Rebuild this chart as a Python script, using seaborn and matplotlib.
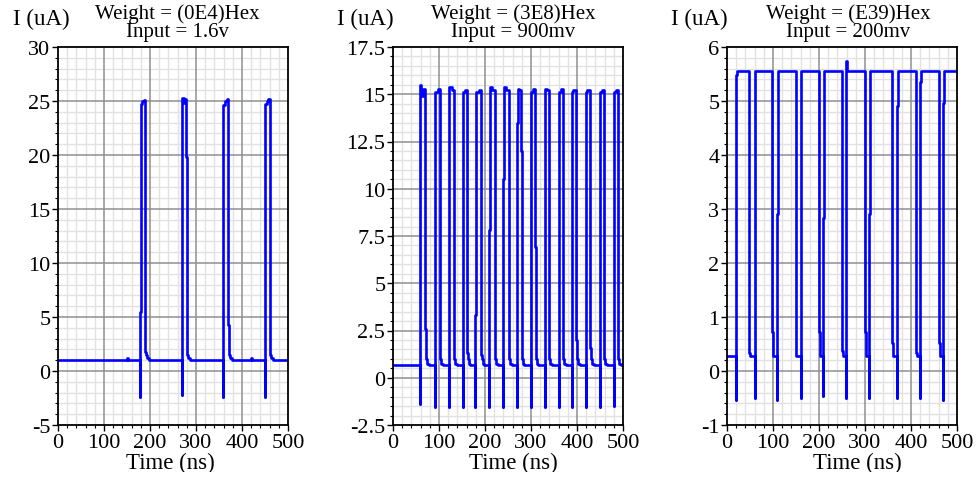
import numpy as np
import matplotlib
matplotlib.use("Agg")
import matplotlib.pyplot as plt
import seaborn as sns
from matplotlib.ticker import MultipleLocator, FuncFormatter
from matplotlib.patches import Rectangle

# ---------------- data ----------------
x_label = "Time (ns)"
y_label = "I (uA)"

# Panel 1 : Weight = (0E4)Hex, Input = 1.6v
p1_title = ["Weight = (0E4)Hex", "Input = 1.6v"]
p1_base = 1.05
p1_on = [178, 269, 359, 450]
p1_off = [190, 279, 370, 460]
p1_under = [-2.4, -2.2, -2.4, -2.4]
p1_rise_step = [5.5, 21.9, 24.6, 24.7]
p1_top = [[24.7, 25.0, 25.1], [25.3, 24.8, 25.2], [24.6, 25.0, 25.2], [24.7, 25.0, 25.2]]
p1_fall_step = [1.8, 19.8, 4.3, 2.3]
p1_tail = [1.5, 1.2, 1.05]
p1_blip_t = [151, 420]
p1_blip_v = [1.25, 1.2]
p1_ylim = [-5, 30]
p1_yticks = [-5, 0, 5, 10, 15, 20, 25, 30]

# Panel 2 : Weight = (3E8)Hex, Input = 900mv
p2_title = ["Weight = (3E8)Hex", "Input = 900mv"]
p2_base = 0.67
p2_on = [59.4, 90.6, 121, 151.4, 179, 209.4, 239.1, 269.6, 299.3, 329.7, 360.1, 389.9, 420.3, 450.7, 479.7]
p2_off = [70.3, 101.4, 131.9, 160.9, 191.3, 221, 251.4, 278.3, 308.7, 338.4, 368.8, 398.6, 429, 458, 488.4]
p2_under = [-1.4, -1.53, -1.53, -1.53, -1.53, -1.53, -1.53, -1.53, -1.53, -1.53, -1.53, -1.53, -1.53, -1.53, -1.5]
p2_rise_step = [15.5, 15.1, 15.1, 15.1, 3.3, 7.8, 10.5, 13.5, 14.4, 15.1, 15.1, 15.1, 15.1, 15.1, 3.4]
p2_top = [[14.9, 15.3], [15.1, 15.3], [15.4, 15.2], [15.1, 15.2], [15.1, 15.25],
          [15.4, 15.2], [15.4, 15.2], [15.3, 15.2], [15.1, 15.3], [15.3, 15.2],
          [15.1, 15.3], [15.2, 15.2], [15.2, 15.2], [15.1, 15.2], [15.1, 15.25]]
p2_fall_step = [2.6, 1.8, 1.6, 1.3, 1.2, 1.5, 1.6, 12.0, 6.9, 4.2, 2.6, 2.0, 1.6, 1.3, 1.14]
p2_tail = [1.0, 0.75, 0.67]
p2_ylim = [-2.5, 17.5]
p2_yticks = [-2.5, 0, 2.5, 5, 7.5, 10, 12.5, 15, 17.5]

# Panel 3 : Weight = (E39)Hex, Input = 200mv
p3_title = ["Weight = (E39)Hex", "Input = 200mv"]
p3_low = 0.27
p3_high = 5.56
p3_rise = [19.6, 60.3, 109, 160, 208.6, 259.4, 308.9, 369.2, 420, 469.5]
p3_under = [-0.53, -0.5, -0.53, -0.5, -0.47, -0.5, -0.5, -0.5, -0.5, -0.53]
p3_rise_step = [5.49, 5.45, 2.9, 5.35, 2.83, 5.74, 2.9, 4.9, 5.35, 4.96]
p3_fall = [48.7, 98.1, 149, 199.1, 250, 300.1, 359.7, 410.6, 460]
p3_fall_step = [0.34, 0.72, 0.40, 0.72, 0.37, 0.72, 0.51, 0.34, 0.51]
p3_ylim = [-1, 6]
p3_yticks = [-1, 0, 1, 2, 3, 4, 5, 6]

x_ticks = [0, 100, 200, 300, 400, 500]


# ---------------- waveform assembly (step polylines) ----------------
def pulse_train(base, on, off, under, rise, tops, fall, tail, blip_t=(), blip_v=()):
    t, v = [0.0], [base]
    events = [("p", on[i], i) for i in range(len(on))] + [("b", blip_t[j], j) for j in range(len(blip_t))]
    events.sort(key=lambda e: e[1])
    for kind, tt, i in events:
        if kind == "b":
            t += [tt, tt, tt + 1.0, tt + 1.0]
            v += [base, blip_v[i], blip_v[i], base]
            continue
        t0, t1 = on[i], off[i]
        t += [t0, t0, t0, t0 + 1.5]
        v += [base, under[i], rise[i], rise[i]]
        edges = np.linspace(t0 + 1.5, t1, len(tops[i]) + 1)
        for k, lev in enumerate(tops[i]):
            t += [edges[k], edges[k + 1]]
            v += [lev, lev]
        t += [t1, t1 + 1.5]
        v += [fall[i], fall[i]]
        tt_ = t1 + 1.5
        for k, lev in enumerate(tail):
            t += [tt_, tt_ + 2.0 * (k + 1)]
            v += [lev, lev]
            tt_ = tt_ + 2.0 * (k + 1)
        t += [tt_]
        v += [base]
    t += [500.0]
    v += [base]
    return t, v


def inverted_train(low, high, rise_t, under, rise_step, fall_t, fall_step):
    t, v = [0.0], [low]
    for i, r in enumerate(rise_t):
        t += [r, r, r, r + 1.5, r + 1.5]
        v += [low, under[i], rise_step[i], rise_step[i], high]
        if i < len(fall_t):
            f = fall_t[i]
            t += [f, f, f + 2.0, f + 2.0]
            v += [high, fall_step[i], fall_step[i], low]
    t += [500.0]
    v += [high]
    return t, v


w1 = pulse_train(p1_base, p1_on, p1_off, p1_under, p1_rise_step, p1_top, p1_fall_step, p1_tail,
                 p1_blip_t, p1_blip_v)
w2 = pulse_train(p2_base, p2_on, p2_off, p2_under, p2_rise_step, p2_top, p2_fall_step, p2_tail)
w3 = inverted_train(p3_low, p3_high, p3_rise, p3_under, p3_rise_step, p3_fall, p3_fall_step)

# ---------------- styling ----------------
sns.set_theme(style="white")
plt.rcParams["font.family"] = ["Liberation Serif", "DejaVu Serif"]
plt.rcParams["axes.unicode_minus"] = False

W, H = 980, 481
fig = plt.figure(figsize=(W / 100, H / 100), dpi=100)

panels = [
    dict(w=w1, title=p1_title, ylim=p1_ylim, yticks=p1_yticks, ymin=1,
         left=58, ylab_x=13, title_cx=177, xlab_cx=170),
    dict(w=w2, title=p2_title, ylim=p2_ylim, yticks=p2_yticks, ymin=0.5,
         left=393, ylab_x=337, title_cx=513, xlab_cx=513),
    dict(w=w3, title=p3_title, ylim=p3_ylim, yticks=p3_yticks, ymin=0.2,
         left=727, ylab_x=671, title_cx=848, xlab_cx=857),
]

ax_w, top_px, bot_px = 230, 48, 426
fmt = FuncFormatter(lambda val, pos: f"{val:g}")

for p in panels:
    ax = fig.add_axes([p["left"] / W, (H - bot_px) / H, ax_w / W, (bot_px - top_px) / H])
    t, v = p["w"]
    sns.lineplot(x=t, y=v, ax=ax, sort=False, estimator=None, color="#0000ff",
                 linewidth=1.9, zorder=3)
    ax.set_xlim(0, 500)
    ax.set_ylim(*p["ylim"])
    ax.set_xticks(x_ticks)
    ax.set_yticks(p["yticks"])
    ax.xaxis.set_minor_locator(MultipleLocator(20))
    ax.yaxis.set_minor_locator(MultipleLocator(p["ymin"]))
    ax.yaxis.set_major_formatter(fmt)
    ax.xaxis.set_major_formatter(fmt)
    ax.set_axisbelow(True)
    # light minor grid from the axis; darker major grid drawn on top of it
    ax.grid(which="minor", color="#e2e2e2", linewidth=1.0)
    ax.grid(which="major", visible=False)
    for xv in x_ticks[1:-1]:
        ax.axvline(xv, color="#8f8f8f", linewidth=1.1, zorder=1)
    for yv in p["yticks"][1:-1]:
        ax.axhline(yv, color="#8f8f8f", linewidth=1.1, zorder=1)
    for s in ax.spines.values():
        s.set_color("black")
        s.set_linewidth(1.3)
        s.set_visible(True)
        s.set_zorder(4)
    ax.tick_params(which="major", direction="out", length=4, width=1.0, color="black",
                   labelsize=16, pad=1.5, left=True, bottom=True)
    ax.tick_params(which="minor", direction="out", length=2.5, width=0.8, color="black",
                   left=True, bottom=True)
    ax.tick_params(axis="x", which="major", pad=2)
    ax.set_xlabel("")
    ax.set_ylabel("")
    for lab in ax.get_xticklabels() + ax.get_yticklabels():
        lab.set_color("black")

    fig.text(p["ylab_x"] / W, 1 - 25 / H, y_label, ha="left", va="baseline",
             fontsize=16.5, color="black")
    fig.text(p["title_cx"] / W, 1 - 18.5 / H, p["title"][0], ha="center", va="baseline",
             fontsize=15, color="black")
    fig.text(p["title_cx"] / W, 1 - 37.5 / H, p["title"][1], ha="center", va="baseline",
             fontsize=15, color="black")
    fig.text(p["xlab_cx"] / W, 1 - 469 / H, x_label, ha="center", va="baseline",
             fontsize=16.5, color="black")

# white band at the very bottom (the reference crops the axis labels there)
fig.patches.append(Rectangle((0, 0), 1, 8 / H, transform=fig.transFigure,
                             facecolor="white", edgecolor="none", zorder=20))

fig.savefig("out.png", dpi=100, facecolor="white")
